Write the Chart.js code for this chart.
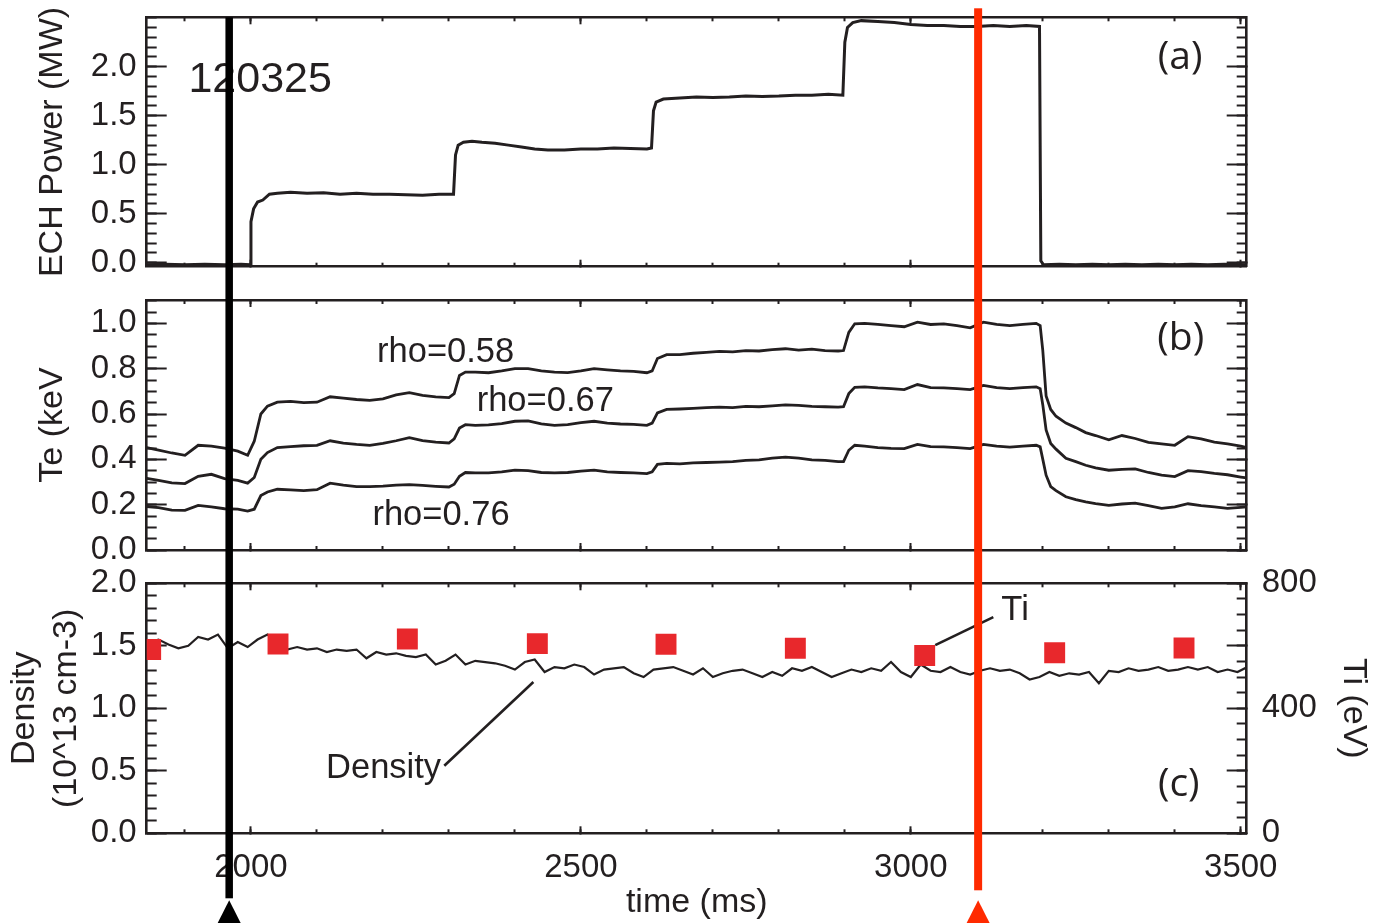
<!DOCTYPE html>
<html>
<head>
<meta charset="utf-8">
<script src="https://cdn.jsdelivr.net/npm/chart.js@4.4.1/dist/chart.umd.min.js"></script>
<style>
html,body{margin:0;padding:0;background:#fff;}
#wrap{position:relative;width:1374px;height:923px;overflow:hidden;background:#fff;}
#wrap canvas{position:absolute;left:0;}
</style>
</head>
<body>
<div id="wrap">
  <canvas id="pa" width="1374" height="283" style="top:0"></canvas>
  <canvas id="pb" width="1374" height="283" style="top:283px"></canvas>
  <canvas id="pc" width="1374" height="357" style="top:566px"></canvas>
</div>
<script>
var INK='#231f20', RED_LINE='#ff2a00', RED_SQ='#e8282c';
var SANS='"Liberation Sans", Arial, sans-serif';
var MYRIAD='"Open Sans", sans-serif';
var TICK_PX=33, TITLE_PX=34, NOTE_PX=34.5;

// shared time axis (ms)
var X_RANGE=[1842,3509];
var X_MAJOR=[2000,2500,3000,3500];
var X_MINOR=[1900,2000,2100,2200,2300,2400,2500,2600,2700,2800,2900,3000,3100,3200,3300,3400,3500];

// the two marked times
var T_BLACK=1967, T_RED=3102;

// (a) ECH power, MW
var T_ECH=[
  1842,1870,1900,1930,1960,1985,1999,
  2000,2004,2010,2018,2028,2040,2060,2085,2110,2135,
  2160,2185,2210,2235,2260,2285,2307,
  2310,2314,2322,2335,2350,2370,2390,2410,2430,2450,
  2475,2500,2525,2550,2575,2600,2607,
  2610,2614,2625,2650,2675,2700,2725,2750,2775,2800,
  2825,2850,2875,2897,
  2900,2904,2912,2925,2950,2975,3000,3025,3050,3075,
  3100,3125,3150,3175,3195,
  3197,3201,
  3225,3250,3275,3300,3325,3350,3375,3400,3425,3450,3475,3509];
var P_ECH=[
  -0.02,-0.015,-0.02,-0.015,-0.02,-0.015,-0.02,
  0.42,0.55,0.62,0.64,0.70,0.71,0.72,0.71,0.715,0.70,
  0.71,0.70,0.70,0.695,0.69,0.70,0.70,
  1.10,1.20,1.23,1.24,1.23,1.22,1.20,1.18,1.16,1.15,
  1.15,1.16,1.16,1.17,1.165,1.16,1.17,
  1.55,1.64,1.67,1.68,1.69,1.685,1.69,1.70,1.695,1.70,
  1.71,1.71,1.72,1.71,
  2.25,2.40,2.45,2.47,2.46,2.45,2.43,2.42,2.42,2.41,
  2.41,2.42,2.41,2.42,2.41,
  0.02,-0.02,
  -0.015,-0.02,-0.015,-0.02,-0.015,-0.02,-0.015,-0.02,-0.015,-0.02,-0.015,-0.02];
var ECH_RANGE=[-0.04,2.504];
var ECH_MAJOR=[0,0.5,1,1.5,2];

// (b) Te, keV, at three radii
var T_TE=[
  1842,1860,1880,1900,1920,1940,1960,1980,1995,2005,
  2015,2025,2040,2060,2080,2100,2120,2140,2160,2180,
  2200,2220,2240,2260,2280,2300,2308,2316,2325,2340,
  2360,2380,2400,2420,2440,2460,2480,2500,2520,2540,
  2560,2580,2600,2608,2616,2630,2650,2670,2690,2710,
  2730,2750,2770,2790,2810,2830,2850,2870,2890,2898,
  2906,2915,2930,2950,2970,2990,3010,3030,3050,3070,
  3090,3110,3130,3150,3170,3190,3196,3200,3205,3212,
  3220,3235,3250,3265,3280,3300,3320,3340,3360,3380,
  3400,3420,3440,3460,3480,3500,3509];
var TE_058=[
  0.452,0.441,0.428,0.418,0.462,0.458,0.449,0.436,0.418,0.48,
  0.60,0.635,0.652,0.656,0.650,0.652,0.676,0.670,0.664,0.660,
  0.667,0.684,0.694,0.682,0.676,0.672,0.69,0.77,0.785,0.785,
  0.782,0.79,0.80,0.80,0.79,0.785,0.783,0.79,0.80,0.795,
  0.79,0.788,0.782,0.79,0.845,0.862,0.862,0.868,0.872,0.876,
  0.874,0.88,0.878,0.884,0.888,0.882,0.886,0.88,0.878,0.88,
  0.96,0.998,1.0,0.995,0.99,0.985,1.005,0.995,0.998,0.99,
  0.98,1.005,0.995,0.99,0.995,1.0,0.99,0.88,0.68,0.62,
  0.59,0.56,0.54,0.518,0.505,0.486,0.505,0.492,0.475,0.468,
  0.462,0.50,0.49,0.476,0.468,0.458,0.452];
var TE_067=[
  0.316,0.307,0.296,0.293,0.325,0.334,0.315,0.307,0.295,0.32,
  0.40,0.43,0.452,0.456,0.46,0.462,0.482,0.472,0.466,0.462,
  0.47,0.482,0.496,0.483,0.476,0.472,0.49,0.538,0.553,0.55,
  0.552,0.558,0.568,0.57,0.556,0.55,0.553,0.562,0.568,0.56,
  0.556,0.554,0.55,0.56,0.605,0.62,0.622,0.625,0.628,0.63,
  0.628,0.634,0.632,0.636,0.64,0.638,0.634,0.632,0.63,0.632,
  0.69,0.718,0.72,0.715,0.712,0.708,0.73,0.716,0.715,0.712,
  0.708,0.726,0.716,0.712,0.716,0.72,0.712,0.64,0.53,0.47,
  0.445,0.405,0.39,0.374,0.362,0.352,0.356,0.358,0.342,0.33,
  0.324,0.35,0.346,0.338,0.332,0.322,0.318];
var TE_076=[
  0.192,0.187,0.176,0.175,0.197,0.19,0.182,0.18,0.172,0.18,
  0.24,0.256,0.268,0.265,0.262,0.266,0.295,0.286,0.28,0.28,
  0.282,0.286,0.288,0.285,0.281,0.278,0.29,0.325,0.342,0.34,
  0.34,0.345,0.352,0.35,0.342,0.34,0.342,0.348,0.352,0.345,
  0.342,0.34,0.337,0.345,0.378,0.382,0.38,0.384,0.386,0.388,
  0.39,0.395,0.398,0.405,0.41,0.405,0.398,0.395,0.39,0.39,
  0.44,0.462,0.458,0.452,0.448,0.447,0.466,0.456,0.455,0.452,
  0.447,0.466,0.458,0.454,0.458,0.462,0.455,0.40,0.33,0.28,
  0.262,0.235,0.222,0.212,0.205,0.197,0.203,0.207,0.196,0.184,
  0.19,0.204,0.196,0.19,0.184,0.188,0.19];
var TE_RANGE=[0,1.103];
var TE_MAJOR=[0,0.2,0.4,0.6,0.8,1.0];

// (c) line density (10^13 cm-3), sampled every 15 ms from 1845 ms
var DEN_T0=1845, DEN_DT=15;
var DENSITY=[
  1.53,1.55,1.51,1.48,1.50,1.57,1.55,1.59,1.48,1.53,
  1.49,1.55,1.59,1.52,1.47,1.49,1.47,1.48,1.45,1.47,
  1.46,1.47,1.40,1.45,1.43,1.44,1.42,1.41,1.43,1.35,
  1.38,1.43,1.35,1.38,1.37,1.36,1.34,1.31,1.37,1.39,
  1.29,1.33,1.32,1.35,1.33,1.27,1.31,1.32,1.33,1.28,
  1.25,1.31,1.32,1.33,1.30,1.27,1.32,1.25,1.28,1.30,
  1.31,1.28,1.25,1.29,1.26,1.32,1.30,1.33,1.29,1.25,
  1.28,1.31,1.29,1.32,1.30,1.37,1.29,1.25,1.35,1.30,
  1.29,1.33,1.29,1.27,1.30,1.32,1.30,1.31,1.28,1.23,
  1.25,1.29,1.26,1.28,1.27,1.29,1.20,1.30,1.29,1.32,
  1.30,1.31,1.33,1.30,1.31,1.33,1.31,1.33,1.29,1.31,
  1.29,1.33];
var DEN_RANGE=[0,2];
var DEN_MAJOR=[0,0.5,1,1.5,2];

// (c) Ti, eV
var T_TI=[1848,2041,2237,2434,2629,2825,3021,3218,3414];
var TI=[588,606,622,607,605,592,569,578,593];
var TI_RANGE=[0,800];
var TI_MAJOR=[0,200,400,600,800];
var TI_LABELED=[0,400,800];

function steps(a,b,d){
  var out=[];
  for(var v=a;v<=b+1e-9;v+=d) out.push(Math.round(v*1000)/1000);
  return out;
}
function xy(ts,vs){return vs.map(function(v,i){return {x:ts[i],y:v};});}

// one axis; len = inward tick length, size = forced box size
function axis(pos,weight,range,ticks,len,o){
  o=o||{};
  var horiz=(pos==='top'||pos==='bottom');
  var t={display:!!o.labels,autoSkip:false,maxRotation:0,minRotation:0,padding:o.pad||0,
    color:INK,font:{family:SANS,size:TICK_PX}};
  if(o.labels) t.callback=o.labels;
  return {
    type:'linear',position:pos,weight:weight,min:range[0],max:range[1],
    afterBuildTicks:function(s){s.ticks=ticks.map(function(v){return {value:v};});},
    afterFit:function(s){
      if(horiz) s.height=o.size||0; else s.width=o.size||0;
      s.paddingLeft=0;s.paddingRight=0;s.paddingTop=0;s.paddingBottom=0;
    },
    grid:{display:true,drawOnChartArea:false,drawTicks:true,tickLength:-len,tickWidth:2,tickColor:INK,color:INK},
    border:{display:!!o.border,color:INK,width:2.6},
    ticks:t,
    title:o.title||{display:false}
  };
}
function fmt1(v){return v.toFixed(1);}
function leftTitle(text,padTop){
  return {display:true,text:text,color:INK,font:{family:SANS,size:TITLE_PX},padding:{top:padTop,bottom:0}};
}

function xAxes(withLabels){
  return {
    x:axis('bottom',1,X_RANGE,X_MAJOR,7,{border:true,labels:withLabels?function(v){return String(v);}:null,
      pad:22,size:withLabels?89.7:0,
      title:withLabels?{display:true,text:'time (ms)',color:INK,font:{family:SANS,size:TITLE_PX},padding:{top:0,bottom:0}}:null}),
    xm:axis('bottom',0,X_RANGE,X_MINOR,4,{}),
    xt:axis('top',1,X_RANGE,X_MAJOR,7,{border:true}),
    xtm:axis('top',0,X_RANGE,X_MINOR,4,{})
  };
}
function leftRight(range,major,minor,title){
  return {
    y:axis('left',1,range,major,20,{border:true,labels:fmt1,pad:30,size:146.7,title:title}),
    ym:axis('left',0,range,minor,10,{}),
    yr:axis('right',1,range,major,20,{border:true,size:127.3}),
    yrm:axis('right',0,range,minor,10,{})
  };
}
function merge(a,b){var o={};for(var k in a)o[k]=a[k];for(var j in b)o[j]=b[j];return o;}

var decoPlugin={
  id:'deco',
  afterDraw:function(chart,args,o){
    var ctx=chart.ctx, a=chart.chartArea, H=chart.height, xs=chart.scales.x;
    ctx.save();
    (o.texts||[]).forEach(function(t){
      var ys=chart.scales[t.axis||'y'];
      ctx.font=t.font; ctx.fillStyle=INK; ctx.textAlign='center'; ctx.textBaseline='middle';
      ctx.fillText(t.text,xs.getPixelForValue(t.x),ys.getPixelForValue(t.y));
    });
    (o.leaders||[]).forEach(function(l){
      var ys=chart.scales[l.axis||'y'];
      ctx.strokeStyle=INK; ctx.lineWidth=2.6; ctx.beginPath();
      ctx.moveTo(xs.getPixelForValue(l.x1),ys.getPixelForValue(l.y1));
      ctx.lineTo(xs.getPixelForValue(l.x2),ys.getPixelForValue(l.y2));
      ctx.stroke();
    });
    (o.marks||[]).forEach(function(m){
      var x=xs.getPixelForValue(m.t);
      var y0=m.fromArea?a.top+m.y0:m.y0;
      var y1=m.toEnd?H:a.bottom+m.y1;
      ctx.fillStyle=m.color;
      ctx.fillRect(x-m.w/2,y0,m.w,y1-y0);
      if(m.tri){
        ctx.beginPath();
        ctx.moveTo(x,a.bottom+m.tri);
        ctx.lineTo(x-12,H+1);ctx.lineTo(x+12,H+1);
        ctx.closePath();ctx.fill();
      }
    });
    ctx.restore();
  }
};

function panel(id,datasets,scales,pad,deco){
  return new Chart(document.getElementById(id),{
    type:'line',
    data:{datasets:datasets},
    options:{
      responsive:false,animation:false,events:[],
      layout:{padding:{top:pad[0],bottom:pad[1],left:0,right:0},autoPadding:false},
      plugins:{legend:{display:false},tooltip:{enabled:false},deco:deco},
      scales:scales
    },
    plugins:[decoPlugin]
  });
}
function trace(ts,vs,w){
  return {data:xy(ts,vs),borderColor:INK,borderWidth:w,pointRadius:0,tension:0,xAxisID:'x',yAxisID:'y'};
}

// ── (a) ECH power ──
panel('pa',
  [trace(T_ECH,P_ECH,3)],
  merge(xAxes(false),leftRight(ECH_RANGE,ECH_MAJOR,steps(0,2.5,0.1),leftTitle('ECH Power (MW)',32))),
  [17.3,16.3],
  {
    texts:[
      {text:'120325',x:2014,y:1.86,font:'43px '+SANS},
      {text:'(a)',x:3408,y:2.09,font:'39px '+MYRIAD}
    ],
    marks:[
      {t:T_BLACK,w:7.5,color:'#000',fromArea:true,y0:0,toEnd:true},
      {t:T_RED,w:8,color:RED_LINE,fromArea:true,y0:-9,toEnd:true}
    ]
  });

// ── (b) electron temperature ──
panel('pb',
  [trace(T_TE,TE_058,2.8),trace(T_TE,TE_067,2.8),trace(T_TE,TE_076,2.8)],
  merge(xAxes(false),leftRight(TE_RANGE,TE_MAJOR,steps(0,1.1,0.05),leftTitle('Te (keV',32))),
  [17,16],
  {
    texts:[
      {text:'rho=0.58',x:2295,y:0.872,font:NOTE_PX+'px '+SANS},
      {text:'rho=0.67',x:2446,y:0.656,font:NOTE_PX+'px '+SANS},
      {text:'rho=0.76',x:2288,y:0.153,font:NOTE_PX+'px '+SANS},
      {text:'(b)',x:3409,y:0.93,font:'39px '+MYRIAD}
    ],
    marks:[
      {t:T_BLACK,w:7.5,color:'#000',y0:0,toEnd:true},
      {t:T_RED,w:8,color:RED_LINE,y0:0,toEnd:true}
    ]
  });

// ── (c) density and Ti ──
var denPts=DENSITY.map(function(v,i){return {x:DEN_T0+i*DEN_DT,y:v};});
var cScales=merge(xAxes(true),{
  y:axis('left',1,DEN_RANGE,DEN_MAJOR,20,{border:true,labels:fmt1,pad:30,size:146.7,
    title:{display:true,text:['Density','(10^13 cm-3)'],color:INK,font:{family:SANS,size:TITLE_PX,lineHeight:1.22},padding:{top:4,bottom:0}}}),
  ym:axis('left',0,DEN_RANGE,steps(0,2,0.1),10,{}),
  yr:axis('right',1,TI_RANGE,TI_MAJOR,20,{border:true,size:127.3,pad:35,
    labels:function(v){return TI_LABELED.indexOf(v)>=0?String(v):'';},
    title:{display:true,text:'Ti (eV)',color:INK,font:{family:SANS,size:TITLE_PX},padding:{top:0,bottom:0}}}),
  yrm:axis('right',0,TI_RANGE,steps(0,800,50),10,{})
});
panel('pc',
  [
    {data:xy(T_TI,TI),showLine:false,pointStyle:'rect',pointRadius:14.8,pointBorderWidth:0,
      pointBackgroundColor:RED_SQ,borderColor:RED_SQ,xAxisID:'x',yAxisID:'yr',clip:0},
    {data:denPts,borderColor:INK,borderWidth:2.2,pointRadius:0,tension:0,xAxisID:'x',yAxisID:'y'}
  ],
  cScales,
  [17.3,0],
  {
    texts:[
      {text:'(c)',x:3406,y:0.386,font:'39px '+MYRIAD},
      {text:'Density',x:2201,y:0.52,font:NOTE_PX+'px '+SANS},
      {text:'Ti',x:3158,y:714,axis:'yr',font:NOTE_PX+'px '+SANS}
    ],
    leaders:[
      {x1:2293,y1:0.54,x2:2428,y2:1.21},
      {x1:3037,y1:602,x2:3125,y2:692,axis:'yr'}
    ],
    marks:[
      {t:T_BLACK,w:7.5,color:'#000',y0:0,y1:65,tri:67},
      {t:T_RED,w:8,color:RED_LINE,y0:0,y1:57,tri:67}
    ]
  });
</script>
</body>
</html>
